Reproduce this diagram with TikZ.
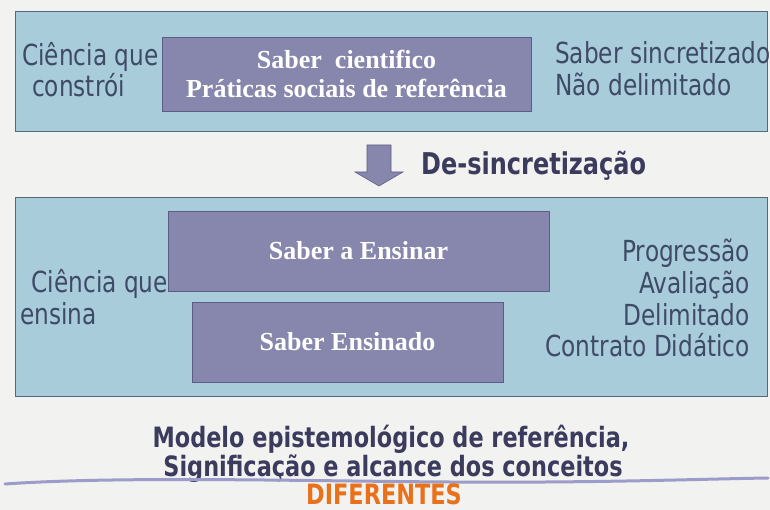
\documentclass[tikz,border=0pt]{standalone}
\usepackage{fontspec}
\setmainfont{Liberation Serif}
\newfontfamily\tahoma[FakeStretch=0.8]{DejaVu Sans}
\usetikzlibrary{positioning}
\definecolor{fundo}{HTML}{F2F2F0}
\definecolor{azulcaixa}{HTML}{A8CCDA}
\definecolor{bordacaixa}{HTML}{56697C}
\definecolor{roxosaber}{HTML}{8787AD}
\definecolor{bordasaber}{HTML}{5C5C86}
\definecolor{cinzatexto}{HTML}{3E4A66}
\definecolor{azultitulo}{HTML}{3B3B5E}
\definecolor{laranja}{HTML}{E8711A}
\definecolor{risco}{HTML}{9C9CCB}

\begin{document}
\begin{tikzpicture}[x=1pt,y=-1pt,
  caixa/.style={draw=bordacaixa,fill=azulcaixa,line width=0.8pt,inner sep=0pt,anchor=north west},
  saber/.style={draw=bordasaber,fill=roxosaber,line width=0.8pt,text=white,align=center,
    font=\bfseries\fontsize{26}{29}\selectfont,inner sep=0pt},
  rotulo/.style={text=cinzatexto,font=\tahoma\fontsize{29}{30}\selectfont,inner sep=0pt},
  titulo/.style={text=azultitulo,font=\tahoma\bfseries\fontsize{28}{29}\selectfont,inner sep=0pt}]
  % fundo e margens
  \fill[fundo] (0,0) rectangle (770,510);
  \useasboundingbox (0,0) rectangle (770,510);

  % caixa de cima
  \node[caixa,minimum width=752pt,minimum height=120pt] (constroi) at (15,11) {};
  \node[saber,minimum width=369pt,minimum height=74pt] (cientifico) at (346.5,74)
    {Saber\ \ cientifico\\Práticas sociais de referência};
  \node[rotulo,anchor=base west] (cq1) at (22,66) {Ciência que};
  \node[rotulo,anchor=base west] (cq2) at (32,97) {constrói};
  \node[rotulo,anchor=base west] (sinc) at (555,64) {Saber sincretizado};
  \node[rotulo,anchor=base west] (delim) at (555,96) {Não delimitado};

  % seta
  \draw[fill=roxosaber,draw=bordasaber,line width=0.6pt]
    (367,145) -- (391,145) -- (391,172) -- (403,172) -- (379,186) -- (355,172) -- (367,172) -- cycle;
  \node[titulo,font=\tahoma\bfseries\fontsize{30}{30}\selectfont,anchor=base west] (desinc) at (421,175) {De-sincretização};

  % caixa de baixo
  \node[caixa,minimum width=752pt,minimum height=199pt] (ensina) at (15,197) {};
  \node[saber,minimum width=381pt,minimum height=80pt] (aensinar) at (358.5,251) {Saber a Ensinar};
  \node[saber,minimum width=311pt,minimum height=80pt] (ensinado) at (347.5,342) {Saber Ensinado};
  \node[rotulo,anchor=base east] (cq3) at (168,293) {Ciência que};
  \node[rotulo,anchor=base west] (cq4) at (20,324) {ensina};
  \node[rotulo,anchor=base east] (prog) at (750,262) {Progressão};
  \node[rotulo,anchor=base east] (aval) at (750,294) {Avaliação};
  \node[rotulo,anchor=base east] (delim2) at (750,325) {Delimitado};
  \node[rotulo,anchor=base east] (contrato) at (750,356) {Contrato Didático};

  % rodape
  \node[titulo,anchor=base] (modelo) at (391,447) {Modelo epistemológico de referência,};
  \node[titulo,anchor=base] (signif) at (393,476) {Significação e alcance dos conceitos};
  \draw[risco,line width=3pt,line cap=round]
    (5,484) .. controls (120,476) and (300,481) .. (450,482) .. controls (600,483) and (700,479) .. (768,478);
  \node[titulo,text=laranja,anchor=base] (dif) at (384,504) {DIFERENTES};
\end{tikzpicture}
\end{document}
